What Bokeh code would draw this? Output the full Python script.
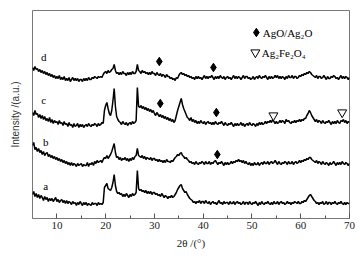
from bokeh.plotting import figure
from bokeh.models import Range1d, FixedTicker
from bokeh.core.properties import value
from bokeh.embed import file_html
from bokeh.resources import INLINE

# 2-theta sampling grid (degrees)
theta_start = 5.0
theta_step = 0.25

curve_a = [
    24, 27, 22, 25, 21, 24, 20, 23, 21, 18, 22, 19, 21, 17, 20, 18, 20, 17, 19, 21,
    17, 19, 16, 18, 19, 16, 18, 15, 18, 15, 17, 16, 14, 17, 15, 16, 13, 16, 14, 17,
    15, 13, 16, 14, 16, 13, 15, 14, 13, 16, 14, 15, 15, 13, 16, 14, 15, 14, 16, 31,
    33, 35, 30, 29, 28, 31, 36, 44, 33, 27, 25, 26, 24, 25, 22, 24, 22, 25, 23, 21,
    24, 22, 25, 23, 24, 26, 48, 30, 28, 29, 27, 28, 26, 28, 25, 27, 25, 27, 24, 26,
    26, 24, 25, 23, 24, 22, 25, 23, 21, 23, 22, 20, 22, 21, 23, 21, 22, 24, 26, 29,
    31, 33, 34, 30, 28, 26, 27, 24, 22, 20, 19, 18, 16, 17, 15, 17, 16, 18, 15, 17,
    17, 15, 18, 16, 15, 17, 14, 16, 17, 15, 16, 14, 16, 18, 15, 16, 14, 17, 15, 16,
    16, 14, 17, 15, 15, 17, 14, 16, 17, 15, 16, 14, 15, 17, 14, 16, 16, 14, 17, 15,
    14, 16, 15, 17, 15, 13, 16, 14, 17, 15, 14, 16, 15, 17, 15, 14, 16, 14, 17, 15,
    15, 17, 14, 16, 17, 15, 16, 14, 15, 17, 15, 16, 14, 16, 15, 17, 16, 15, 17, 15,
    15, 17, 16, 18, 17, 19, 21, 23, 24, 22, 20, 18, 17, 15, 16, 14, 16, 15, 17, 14,
    15, 17, 14, 16, 16, 14, 16, 15, 17, 15, 14, 16, 15, 17, 15, 14, 16, 14, 16, 15,
    15,
]

curve_b = [
    73, 76, 69, 71, 67, 70, 66, 68, 64, 67, 63, 65, 66, 62, 64, 61, 63, 60, 62, 59,
    61, 58, 60, 57, 59, 56, 58, 55, 57, 54, 56, 53, 56, 53, 55, 54, 52, 55, 53, 54,
    55, 52, 54, 53, 53, 56, 52, 55, 54, 56, 53, 57, 55, 58, 56, 57, 58, 56, 59, 61,
    60, 63, 60, 62, 64, 67, 71, 75, 66, 61, 62, 59, 61, 58, 60, 59, 61, 58, 60, 57,
    60, 58, 61, 59, 62, 63, 70, 63, 62, 61, 63, 60, 62, 59, 61, 60, 59, 61, 58, 60,
    60, 58, 59, 57, 59, 57, 58, 56, 58, 56, 59, 57, 57, 56, 58, 57, 59, 61, 62, 64,
    63, 65, 66, 63, 62, 60, 61, 59, 58, 56, 57, 55, 56, 54, 57, 55, 54, 56, 55, 57,
    56, 54, 57, 55, 55, 57, 54, 56, 55, 57, 58, 56, 54, 56, 55, 57, 55, 53, 56, 54,
    56, 54, 55, 57, 55, 57, 56, 58, 57, 59, 57, 58, 56, 58, 55, 57, 55, 54, 56, 53,
    55, 53, 56, 54, 54, 56, 53, 55, 56, 54, 57, 55, 55, 57, 54, 56, 57, 55, 56, 58,
    56, 54, 57, 55, 54, 56, 55, 57, 56, 54, 57, 55, 55, 57, 54, 56, 57, 55, 56, 58,
    56, 58, 57, 59, 58, 60, 59, 61, 61, 59, 58, 57, 56, 58, 55, 57, 56, 54, 57, 55,
    54, 56, 55, 53, 56, 54, 55, 57, 55, 53, 56, 54, 56, 54, 57, 55, 54, 56, 55, 53,
    55,
]

curve_c = [
    106, 103, 108, 104, 105, 101, 104, 100, 103, 99, 102, 98, 100, 97, 101, 96, 99, 95, 98, 96,
    97, 94, 98, 95, 96, 93, 97, 94, 95, 92, 96, 93, 94, 91, 95, 92, 93, 95, 91, 94,
    92, 94, 91, 93, 94, 92, 95, 93, 92, 94, 93, 95, 94, 92, 95, 93, 94, 96, 95, 108,
    113, 116, 110, 105, 103, 108, 118, 130, 112, 102, 99, 97, 96, 94, 97, 95, 94, 96, 93, 95,
    96, 94, 97, 95, 96, 98, 131, 112, 111, 113, 110, 112, 109, 111, 108, 110, 107, 109, 106, 108,
    105, 103, 106, 104, 102, 104, 101, 103, 100, 102, 99, 101, 98, 100, 97, 99, 96, 98, 103, 108,
    112, 116, 120, 114, 110, 107, 104, 101, 100, 98, 101, 97, 99, 96, 98, 95, 97, 95, 98, 96,
    95, 97, 94, 96, 97, 95, 96, 94, 96, 94, 97, 95, 94, 96, 95, 97, 95, 93, 96, 94,
    93, 95, 94, 96, 94, 92, 95, 93, 95, 93, 94, 96, 93, 95, 92, 94, 95, 93, 96, 94,
    93, 95, 94, 92, 95, 93, 96, 94, 96, 94, 95, 97, 95, 97, 96, 98, 96, 99, 97, 95,
    97, 95, 96, 98, 96, 98, 97, 95, 99, 97, 98, 96, 95, 97, 96, 98, 96, 98, 97, 99,
    97, 99, 98, 100, 100, 103, 105, 108, 106, 103, 101, 99, 97, 99, 96, 98, 97, 95, 98, 96,
    95, 97, 96, 98, 96, 94, 97, 95, 97, 95, 98, 96, 95, 98, 97, 99, 96, 98, 95, 97,
    96,
]

curve_d = [
    151, 148, 152, 149, 150, 147, 149, 146, 148, 145, 147, 144, 146, 143, 145, 142, 144, 141, 143, 140,
    142, 140, 143, 139, 141, 139, 142, 138, 140, 138, 141, 137, 139, 141, 138, 140, 138, 140, 137, 139,
    139, 137, 140, 138, 140, 138, 141, 139, 139, 141, 140, 142, 141, 140, 142, 141, 142, 141, 144, 146,
    147, 145, 148, 146, 147, 149, 150, 154, 148, 145, 146, 144, 146, 144, 147, 145, 145, 143, 146, 144,
    146, 144, 147, 145, 145, 147, 154, 148, 147, 145, 148, 146, 147, 145, 146, 144, 146, 144, 147, 145,
    145, 143, 146, 144, 143, 145, 142, 144, 143, 141, 144, 142, 142, 140, 141, 139, 140, 138, 141, 140,
    143, 145, 146, 144, 145, 143, 144, 142, 143, 141, 142, 140, 141, 139, 142, 140, 142, 140, 141, 139,
    141, 143, 140, 142, 140, 142, 141, 143, 141, 139, 142, 140, 142, 140, 143, 141, 140, 142, 139, 141,
    142, 140, 141, 139, 141, 143, 140, 142, 140, 142, 141, 139, 141, 143, 140, 142, 142, 140, 141, 139,
    140, 142, 139, 141, 142, 140, 143, 141, 140, 142, 141, 143, 141, 139, 142, 140, 142, 140, 141, 143,
    141, 143, 140, 142, 140, 142, 141, 139, 142, 140, 143, 141, 141, 143, 140, 142, 142, 140, 141, 143,
    142, 144, 143, 145, 144, 146, 145, 147, 146, 144, 143, 142, 141, 143, 140, 142, 142, 140, 141, 143,
    141, 139, 142, 140, 140, 142, 141, 143, 142, 140, 141, 139, 141, 143, 140, 142, 140, 142, 141, 139,
    141,
]

curve_names = ["a", "b", "c", "d"]
curve_label_x = [7.7, 7.7, 7.3, 7.3]
curve_label_y = [33, 77, 119, 162]

# AgO/Ag2O marks (diamonds) and Ag2Fe2O4 marks (inverted triangles)
diamond_x = [31.0, 42.1, 31.2, 42.7, 42.9]
diamond_y = [157, 151, 115, 106, 64]
triangle_x = [54.4, 68.5]
triangle_y = [103, 106]

legend_labels = ["AgO/Ag\u2082O", "Ag\u2082Fe\u2082O\u2084"]
legend_x = [50.9, 50.7]
legend_y = [186, 166]

x_ticks = [10, 20, 30, 40, 50, 60, 70]
x_minor = [15, 25, 35, 45, 55, 65]

n = len(curve_a)
theta = [theta_start + theta_step * i for i in range(n)]

p = figure(width=360, height=258, output_backend="svg", toolbar_location=None,
           x_range=Range1d(5, 70), y_range=Range1d(0, 208),
           min_border_left=32, min_border_right=11, min_border_top=10,
           min_border_bottom=40)
p.background_fill_color = "white"
p.border_fill_color = "white"
p.outline_line_color = "#777777"
p.outline_line_width = 1
p.xgrid.visible = False
p.ygrid.visible = False

for ys in [curve_a, curve_b, curve_c, curve_d]:
    p.line(theta, ys, line_color="black", line_width=1.5)

p.scatter(diamond_x, diamond_y, marker="diamond", size=8.5, color="black")
p.scatter(triangle_x, triangle_y, marker="inverted_triangle", size=9,
          fill_color="white", line_color="black", line_width=1)

p.scatter([legend_x[0]], [legend_y[0]], marker="diamond", size=8.5, color="black")
p.scatter([legend_x[1]], [legend_y[1]], marker="inverted_triangle", size=9,
          fill_color="white", line_color="black", line_width=1)
p.text([lx + 1.3 for lx in legend_x], legend_y, text=legend_labels,
       text_font=value("Liberation Serif"), text_font_size="11px",
       text_baseline="middle", text_align="left", text_color="black")

p.text(curve_label_x, curve_label_y, text=curve_names,
       text_font=value("Liberation Serif"), text_font_size="11px",
       text_baseline="middle", text_align="center", text_color="black")

xa = p.xaxis[0]
xa.ticker = FixedTicker(ticks=x_ticks, minor_ticks=x_minor)
xa.major_tick_in = 5
xa.major_tick_out = 0
xa.minor_tick_in = 3
xa.minor_tick_out = 0
xa.axis_line_color = "#777777"
xa.major_tick_line_color = "#555555"
xa.minor_tick_line_color = "#555555"
xa.major_label_text_font = "Liberation Serif"
xa.major_label_text_font_size = "11px"
xa.major_label_text_color = "#222222"
xa.major_label_standoff = 3
xa.axis_label = "2\u03b8 /(\u00b0)"
xa.axis_label_text_font = "Liberation Serif"
xa.axis_label_text_font_size = "11px"
xa.axis_label_text_font_style = "normal"
xa.axis_label_text_color = "#222222"
xa.axis_label_standoff = 5

ya = p.yaxis[0]
ya.ticker = FixedTicker(ticks=[])
ya.major_tick_in = 0
ya.major_tick_out = 0
ya.minor_tick_in = 0
ya.minor_tick_out = 0
ya.major_label_text_font_size = "10px"
ya.axis_line_color = None
ya.axis_label = "Intensity /(a.u.)"
ya.axis_label_text_font = "Liberation Sans"
ya.axis_label_text_font_size = "10px"
ya.axis_label_text_font_style = "normal"
ya.axis_label_text_color = "#333333"
ya.axis_label_standoff = 12

open("out.html", "w").write(file_html(p, INLINE))
